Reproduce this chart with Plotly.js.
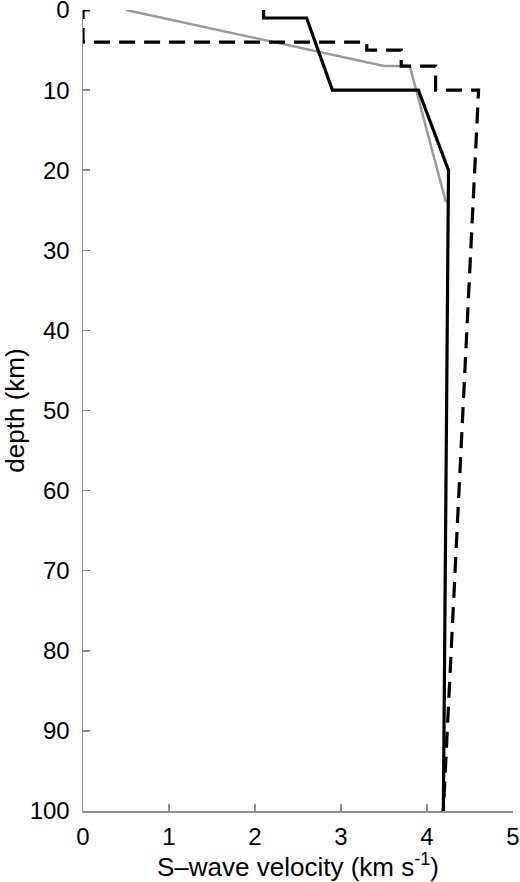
<!DOCTYPE html>
<html>
<head>
<meta charset="utf-8">
<script src="https://cdn.plot.ly/plotly-3.0.1.min.js"></script>
<style>
  html, body { margin: 0; padding: 0; background: #fff; }
  #chart { width: 520px; height: 882px; }
</style>
</head>
<body>
<div id="chart"></div>
<script>
// velocity (km/s) vs depth (km) for the three models
const grayVel = [0.5, 3.5, 3.8, 4.22];
const grayDepth = [0, 7, 7, 24];

const solidVel = [2.1, 2.1, 2.6, 2.9, 3.9, 4.25, 4.19];
const solidDepth = [0, 1, 1, 10, 10, 20, 100];

const dashVel = [0.08, 0, 0, 3.3, 3.3, 3.7, 3.7, 4.1, 4.1, 4.6, 4.19];
const dashDepth = [0, 0, 4, 4, 5, 5, 7, 7, 10, 10, 100];

const xTicks = [0, 1, 2, 3, 4, 5];
const yTicks = [0, 10, 20, 30, 40, 50, 60, 70, 80, 90, 100];

const font = "Liberation Sans, Arial, Helvetica, sans-serif";
const axisGray = "#8c8c8c";

const data = [
    {
        x: grayVel, y: grayDepth,
        type: "scatter", mode: "lines",
        line: {color: "#9a9a9a", width: 2.5},
        hoverinfo: "skip"
    },
    {
        x: dashVel, y: dashDepth,
        type: "scatter", mode: "lines",
        line: {color: "#000", width: 3.2, dash: "16px,9px"},
        hoverinfo: "skip"
    },
    {
        x: solidVel, y: solidDepth,
        type: "scatter", mode: "lines",
        line: {color: "#000", width: 3.2},
        hoverinfo: "skip"
    }
];

const layout = {
    width: 520,
    height: 882,
    margin: {t: 10, b: 71, l: 83, r: 7},
    showlegend: false,
    paper_bgcolor: "#fff",
    plot_bgcolor: "#fff",
    font: {family: font, size: 24, color: "#000"},
    xaxis: {
        range: [0, 5],
        tickvals: xTicks,
        ticks: "inside",
        ticklen: 7,
        tickwidth: 1.5,
        tickcolor: axisGray,
        tickfont: {size: 24},
        showline: true,
        linecolor: axisGray,
        linewidth: 1.5,
        showgrid: false,
        zeroline: false,
        ticklabelstandoff: 4,
        ticklabeloverflow: "allow",
        title: {text: "S–wave velocity (km s<sup>-1</sup>)", standoff: 6, font: {size: 26}}
    },
    yaxis: {
        range: [100, 0],
        tickvals: yTicks,
        ticks: "inside",
        ticklen: 7,
        tickwidth: 1.5,
        tickcolor: axisGray,
        tickfont: {size: 24},
        showline: true,
        linecolor: axisGray,
        linewidth: 1.5,
        showgrid: false,
        zeroline: false,
        ticklabelstandoff: 7,
        ticklabeloverflow: "allow",
        title: {text: "depth (km)", standoff: 10, font: {size: 26}}
    }
};

Plotly.newPlot("chart", data, layout, {displayModeBar: false, staticPlot: true});
</script>
</body>
</html>
